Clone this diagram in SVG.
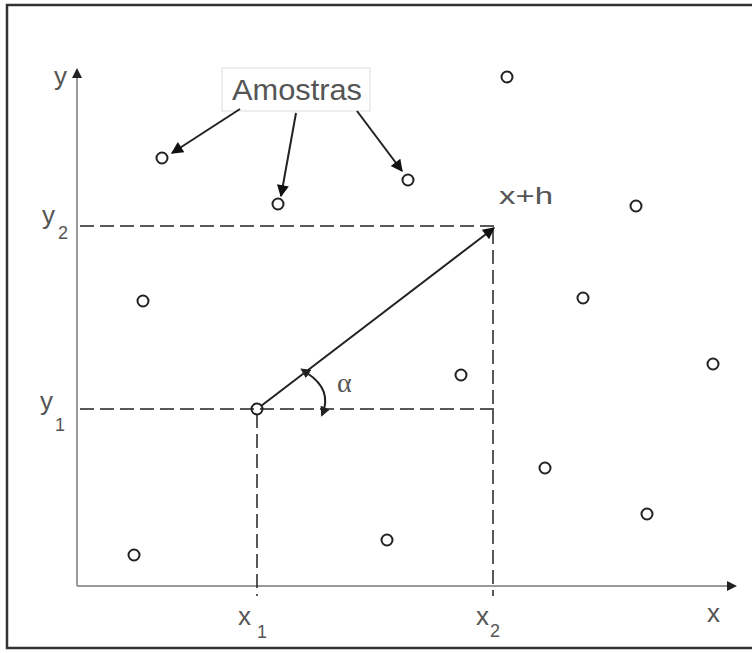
<svg xmlns="http://www.w3.org/2000/svg" width="752" height="653" viewBox="0 0 752 653">
<defs>
<style>
.lbl{font-family:"Liberation Sans",Arial,sans-serif;fill:#555;}
.sub{font-family:"Liberation Sans",Arial,sans-serif;fill:#555;font-size:18px;}
.pt{fill:none;stroke:#222;stroke-width:2;}
.dash{fill:none;stroke:#222;stroke-width:1.5;stroke-dasharray:14,6;}
.axis{fill:none;stroke:#999;stroke-width:2;}
.arr{fill:none;stroke:#222;stroke-width:2;}
</style>
<marker id="ah" viewBox="0 0 10 10" refX="9" refY="5" markerWidth="7" markerHeight="6" orient="auto" markerUnits="strokeWidth">
<path d="M0,0 L10,5 L0,10 z" fill="#111"/>
</marker>
<marker id="ahs" viewBox="0 0 10 10" refX="8" refY="5" markerWidth="5" markerHeight="5" orient="auto" markerUnits="strokeWidth">
<path d="M0,0 L10,5 L0,10 z" fill="#222"/>
</marker>
<marker id="ahs2" viewBox="0 0 10 10" refX="2" refY="5" markerWidth="5" markerHeight="5" orient="auto-start-reverse" markerUnits="strokeWidth">
<path d="M0,0 L10,5 L0,10 z" fill="#222"/>
</marker>
</defs>
<rect x="0" y="0" width="752" height="653" fill="#fff"/>
<rect x="7" y="5" width="750" height="643" fill="none" stroke="#333" stroke-width="2.5"/>

<g id="axes">
<line class="axis" x1="77" y1="586" x2="77" y2="70" marker-end="url(#ahs)"/>
<line class="axis" x1="77" y1="586" x2="735" y2="586" marker-end="url(#ahs)"/>
<text class="lbl" x="54" y="85" font-size="26">y</text>
<text class="lbl" x="707" y="622" font-size="26">x</text>
</g>

<g id="guides">
<line class="dash" x1="80" y1="226" x2="494" y2="226"/>
<line class="dash" x1="80" y1="409" x2="494" y2="409"/>
<line class="dash" x1="257" y1="414" x2="257" y2="596"/>
<line class="dash" x1="493" y1="230" x2="493" y2="596"/>
</g>

<g id="labels">
<text class="lbl" x="42" y="224" font-size="26">y</text><text class="sub" x="58" y="239">2</text>
<text class="lbl" x="40" y="410" font-size="26">y</text><text class="sub" x="55" y="431">1</text>
<text class="lbl" x="238" y="625" font-size="26">x</text><text class="sub" x="257" y="638">1</text>
<text class="lbl" x="476" y="625" font-size="26">x</text><text class="sub" x="490" y="637">2</text>
<text class="lbl" x="499" y="204" font-size="24" textLength="54" lengthAdjust="spacingAndGlyphs">x+h</text>
<text x="337" y="392" font-family="Liberation Serif,serif" font-size="28" fill="#555">α</text>
</g>

<g id="amostras">
<rect x="222" y="68" width="148" height="43" fill="#fff" stroke="#ddd" stroke-width="1"/>
<text class="lbl" x="232" y="100" font-size="30" textLength="130" lengthAdjust="spacingAndGlyphs">Amostras</text>
</g>

<g id="samples">
<circle class="pt" cx="162" cy="158" r="5.5"/>
<circle class="pt" cx="278" cy="204" r="5.5"/>
<circle class="pt" cx="408" cy="180" r="5.5"/>
<circle class="pt" cx="507" cy="77" r="5.5"/>
<circle class="pt" cx="636" cy="206" r="5.5"/>
<circle class="pt" cx="143" cy="301" r="5.5"/>
<circle class="pt" cx="583" cy="298" r="5.5"/>
<circle class="pt" cx="461" cy="375" r="5.5"/>
<circle class="pt" cx="713" cy="364" r="5.5"/>
<circle class="pt" cx="545" cy="468" r="5.5"/>
<circle class="pt" cx="647" cy="514" r="5.5"/>
<circle class="pt" cx="387" cy="540" r="5.5"/>
<circle class="pt" cx="134" cy="555" r="5.5"/>
<circle class="pt" cx="257" cy="409" r="5.5"/>
</g>

<g id="connectors">
<line class="arr" x1="240" y1="109" x2="172" y2="153" marker-end="url(#ah)"/>
<line class="arr" x1="296" y1="113" x2="281" y2="196" marker-end="url(#ah)"/>
<line class="arr" x1="357" y1="111" x2="402" y2="171" marker-end="url(#ah)"/>
<line class="arr" x1="261" y1="406" x2="494" y2="228" marker-end="url(#ah)"/>
<path class="arr" d="M307,373 Q333,390 322,415" marker-start="url(#ahs2)" marker-end="url(#ahs)"/>
</g>
</svg>
